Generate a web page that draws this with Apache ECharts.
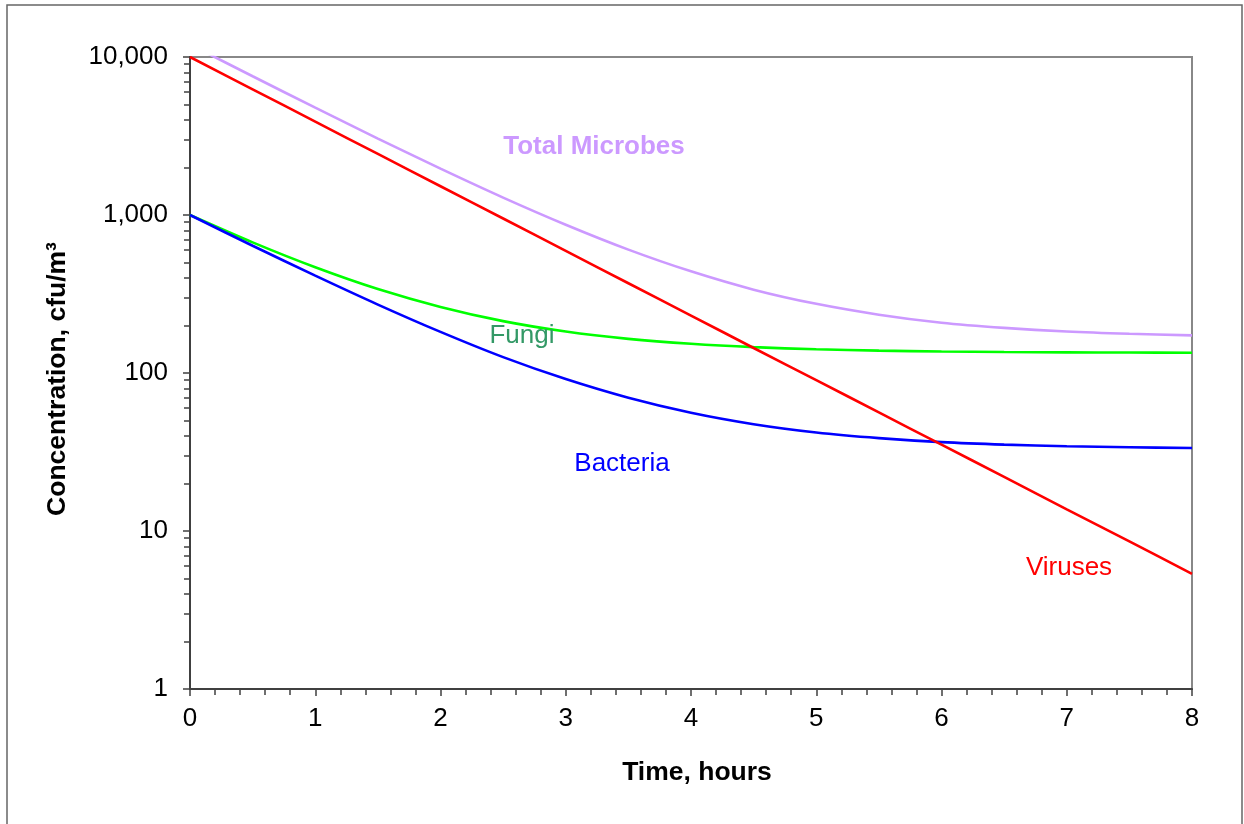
<!DOCTYPE html>
<html>
<head>
<meta charset="utf-8">
<script src="https://cdn.jsdelivr.net/npm/echarts@6/dist/echarts.min.js"></script>
<style>
html,body{margin:0;padding:0;background:#fff;}
#chart{width:1244px;height:824px;}
</style>
</head>
<body>
<div id="chart"></div>
<script>
// Time, hours
const hours = [0, 0.5, 1, 1.5, 2, 2.5, 3, 3.5, 4, 4.5, 5, 5.5, 6, 6.5, 7, 7.5, 8];
// Concentration, cfu/m3
const totalMicrobes = [12000, 7555, 4779, 3046, 1965, 1289, 868, 604, 440, 337, 274, 234, 208, 193, 183, 177, 173];
const viruses = [10000, 6245, 3899, 2435, 1521, 950, 593, 370, 231, 144, 90.2, 56.3, 35.2, 22.0, 13.7, 8.6, 5.35];
const bacteria = [1000, 639, 413, 271, 182, 126, 91.5, 69.7, 56, 47.4, 42, 38.7, 36.5, 35.2, 34.4, 33.9, 33.5];
const fungi = [1000, 671, 467, 340, 262, 213, 183, 164.5, 153, 145.7, 141.3, 138.5, 136.8, 135.7, 135.1, 134.7, 134.4];
const yMinorTicks = [2,3,4,5,6,7,8,9,20,30,40,50,60,70,80,90,200,300,400,500,600,700,800,900,2000,3000,4000,5000,6000,7000,8000,9000];

const FONT = 'Liberation Sans, Arial, sans-serif';
const pair = (arr) => hours.map((h, i) => [h, arr[i]]);

const chart = echarts.init(document.getElementById('chart'));
const lineSeries = (name, data, color) => ({
  name, type: 'line', data: pair(data), smooth: 0.3, showSymbol: false, symbol: 'none',
  lineStyle: { color, width: 2.6 }, itemStyle: { color }, clip: true, animation: false, z: 3
});

chart.setOption({
  animation: false,
  backgroundColor: '#fff',
  grid: { left: 190, top: 57, right: 52, bottom: 135, show: true, borderColor: '#888', borderWidth: 2, backgroundColor: '#fff' },
  xAxis: {
    type: 'value', min: 0, max: 8, interval: 1,
    name: 'Time, hours', nameLocation: 'middle', nameGap: 70,
    nameTextStyle: { fontFamily: FONT, fontSize: 26.5, fontWeight: 'bold', color: '#000', padding: [0, 0, 0, 12] },
    axisLine: { show: true, lineStyle: { color: '#404040', width: 2 } },
    axisTick: { show: true, length: 7, lineStyle: { color: '#404040', width: 1.5 } },
    minorTick: { show: true, splitNumber: 5, length: 6, lineStyle: { color: '#404040', width: 1.5 } },
    axisLabel: { fontFamily: FONT, fontSize: 26, color: '#000', margin: 17 },
    splitLine: { show: false }, minorSplitLine: { show: false }
  },
  yAxis: [{
    type: 'log', logBase: 10, min: 1, max: 10000,
    name: 'Concentration, cfu/m³', nameLocation: 'middle', nameGap: 119, nameRotate: 90,
    nameTextStyle: { fontFamily: FONT, fontSize: 26.5, fontWeight: 'bold', color: '#000', padding: [0, 12, 0, 0] },
    axisLine: { show: true, lineStyle: { color: '#404040', width: 2 } },
    axisTick: { show: true, length: 7, lineStyle: { color: '#404040', width: 1.5 } },
    axisLabel: { fontFamily: FONT, fontSize: 26, color: '#000', margin: 22,
      formatter: (v) => Number(v).toLocaleString('en-US') },
    splitLine: { show: false }
  }, {
    type: 'log', logBase: 10, min: 1, max: 10000, position: 'left', offset: 0,
    axisLine: { show: false },
    axisTick: { show: true, length: 6, customValues: yMinorTicks, lineStyle: { color: '#404040', width: 1.5 } },
    axisLabel: { show: false },
    splitLine: { show: false }
  }],
  series: [
    lineSeries('Total Microbes', totalMicrobes, '#CC99FF'),
    lineSeries('Fungi', fungi, '#00FF00'),
    lineSeries('Bacteria', bacteria, '#0000FF'),
    lineSeries('Viruses', viruses, '#FF0000')
  ],
  graphic: [
    { type: 'rect', shape: { x: 7, y: 5, width: 1235, height: 840 }, style: { fill: 'none', stroke: '#666', lineWidth: 1.5 }, silent: true, z: 100 },
    { type: 'text', x: 594, y: 147, style: { text: 'Total Microbes', fill: '#CC99FF', font: 'bold 26px ' + FONT, align: 'center', verticalAlign: 'middle' }, z: 50 },
    { type: 'text', x: 522, y: 336, style: { text: 'Fungi', fill: '#339966', font: '26px ' + FONT, align: 'center', verticalAlign: 'middle' }, z: 50 },
    { type: 'text', x: 622, y: 464, style: { text: 'Bacteria', fill: '#0000FF', font: '26px ' + FONT, align: 'center', verticalAlign: 'middle' }, z: 50 },
    { type: 'text', x: 1069, y: 568, style: { text: 'Viruses', fill: '#FF0000', font: '26px ' + FONT, align: 'center', verticalAlign: 'middle' }, z: 50 }
  ]
});
</script>
</body>
</html>
